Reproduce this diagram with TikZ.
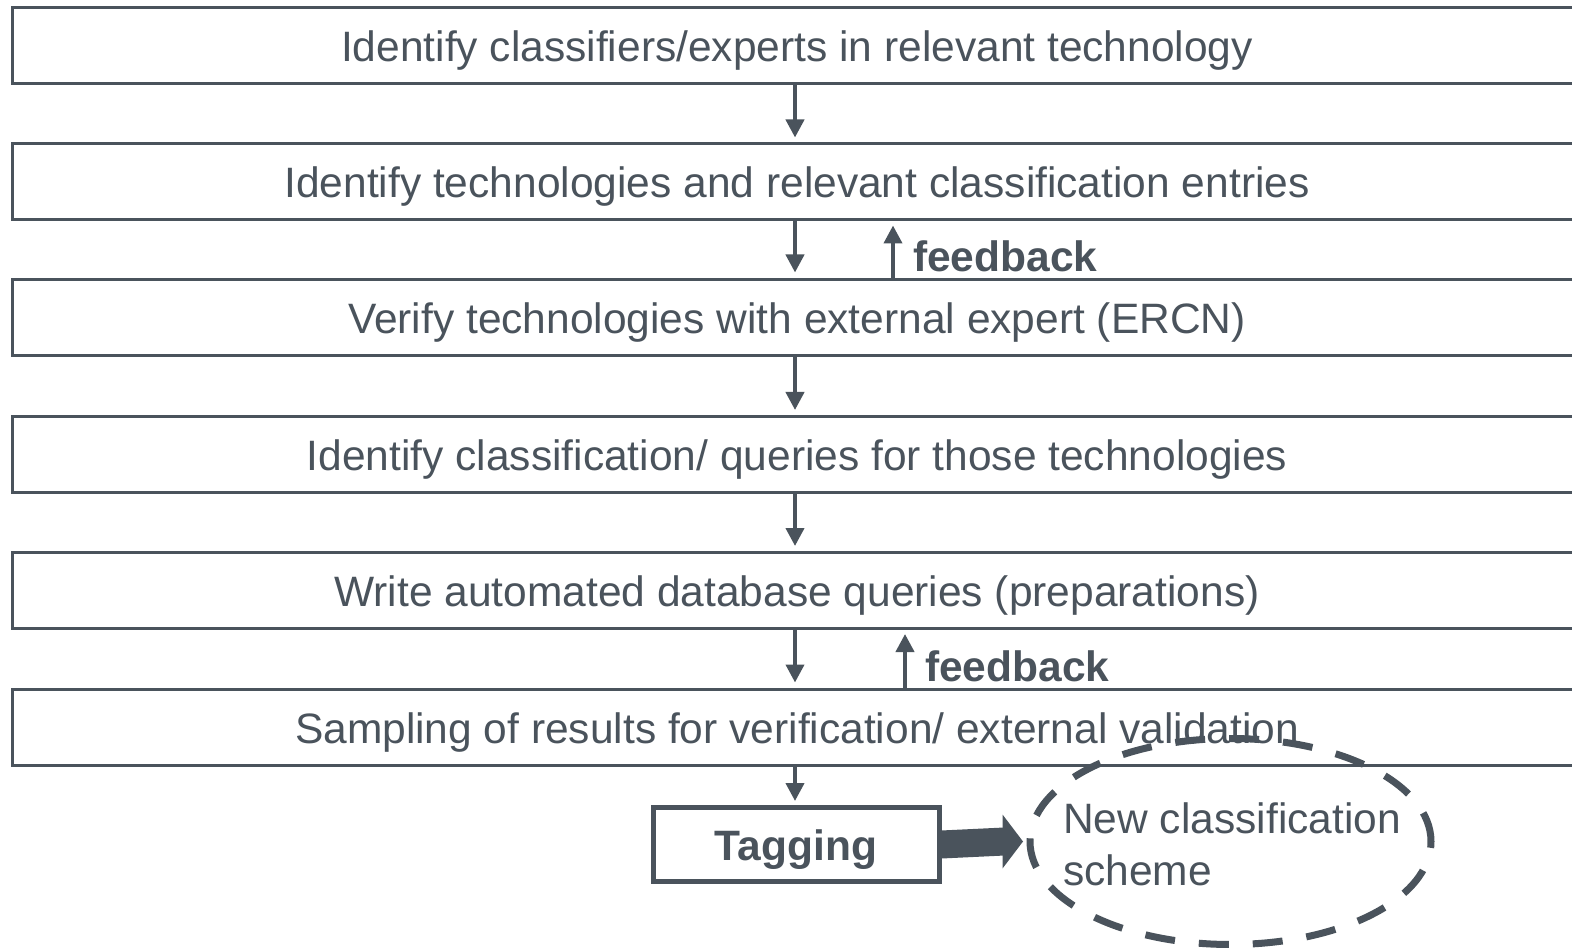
\documentclass[tikz,border=0pt]{standalone}
\usepackage{fontspec}
\setmainfont{Liberation Sans}
\usetikzlibrary{arrows.meta,shapes.geometric}
\definecolor{ink}{RGB}{74,83,92}
\begin{document}
\begin{tikzpicture}[x=1pt,y=-1pt,
  stepbox/.style={draw=ink, line width=3pt, minimum width=1570pt, minimum height=76pt,
    inner sep=0pt, text=ink, text height=32pt, text depth=0pt,
    font=\fontsize{42.5}{51}\selectfont},
  flow/.style={draw=ink, line width=4pt, -{Triangle[length=18pt,width=18pt]}},
  fbtext/.style={text=ink, font=\fontsize{42.5}{51}\selectfont\bfseries, inner sep=0pt, anchor=base west},
  tagbox/.style={draw=ink, line width=5pt, minimum width=286pt, minimum height=74pt,
    inner sep=0pt, text=ink, text height=32pt, text depth=0pt,
    font=\fontsize{42.5}{51}\selectfont\bfseries},
  dashell/.style={ellipse, draw=ink, line width=7pt, dash pattern=on 30pt off 24pt,
    minimum width=401pt, minimum height=206pt, inner sep=0pt}]
\useasboundingbox (0,0) rectangle (1572,949);
\clip (0,0) rectangle (1572,949);
\fill[white] (0,0) rectangle (1572,949);
\node[stepbox] (b1) at (797,46) {Identify classifiers/experts in relevant technology};
\node[stepbox] (b2) at (797,182) {Identify technologies and relevant classification entries};
\node[stepbox] (b3) at (797,318) {Verify technologies with external expert (ERCN)};
\node[stepbox] (b4) at (797,454.5) {Identify classification/ queries for those technologies};
\node[stepbox] (b5) at (797,590.5) {Write automated database queries (preparations)};
\node[stepbox] (b6) at (797,727) {Sampling of results for verification/ external validation};
\node[tagbox] (tag) at (796,844.5) {Tagging};
\coordinate (mx) at (795,0);
\coordinate (fx1) at (893,0);
\coordinate (fx2) at (905,0);
\draw[flow, shorten >=5pt] (b1.south -| mx) -- (b2.north -| mx);
\draw[flow, shorten >=6pt] (b2.south -| mx) -- (b3.north -| mx);
\draw[flow, shorten >=5pt] (b3.south -| mx) -- (b4.north -| mx);
\draw[flow, shorten >=5pt] (b4.south -| mx) -- (b5.north -| mx);
\draw[flow, shorten >=5pt] (b5.south -| mx) -- (b6.north -| mx);
\draw[flow, shorten >=4pt] (b6.south -| mx) -- (tag.north -| mx);
\draw[flow, shorten >=4pt] (b3.north -| fx1) -- (b2.south -| fx1);
\draw[flow, shorten >=4pt] (b6.north -| fx2) -- (b5.south -| fx2);
\node[fbtext] (fb1) at (913,272) {feedback};
\node[fbtext] (fb2) at (925,681) {feedback};
\node[dashell] (ell) at (1230.5,841.5) {};
\node[text=ink, font=\fontsize{42.5}{52}\selectfont, align=left, inner sep=0pt, anchor=north west] (nc) at (1063,802) {New classification\\scheme};
\draw[draw=ink, line width=28pt] (tag.east) -- ([xshift=-22pt]ell.west);
\fill[ink] ([xshift=-24pt,yshift=27pt]ell.west) -- ([xshift=-3.5pt]ell.west) -- ([xshift=-24pt,yshift=-27pt]ell.west) -- cycle;
\end{tikzpicture}
\end{document}
